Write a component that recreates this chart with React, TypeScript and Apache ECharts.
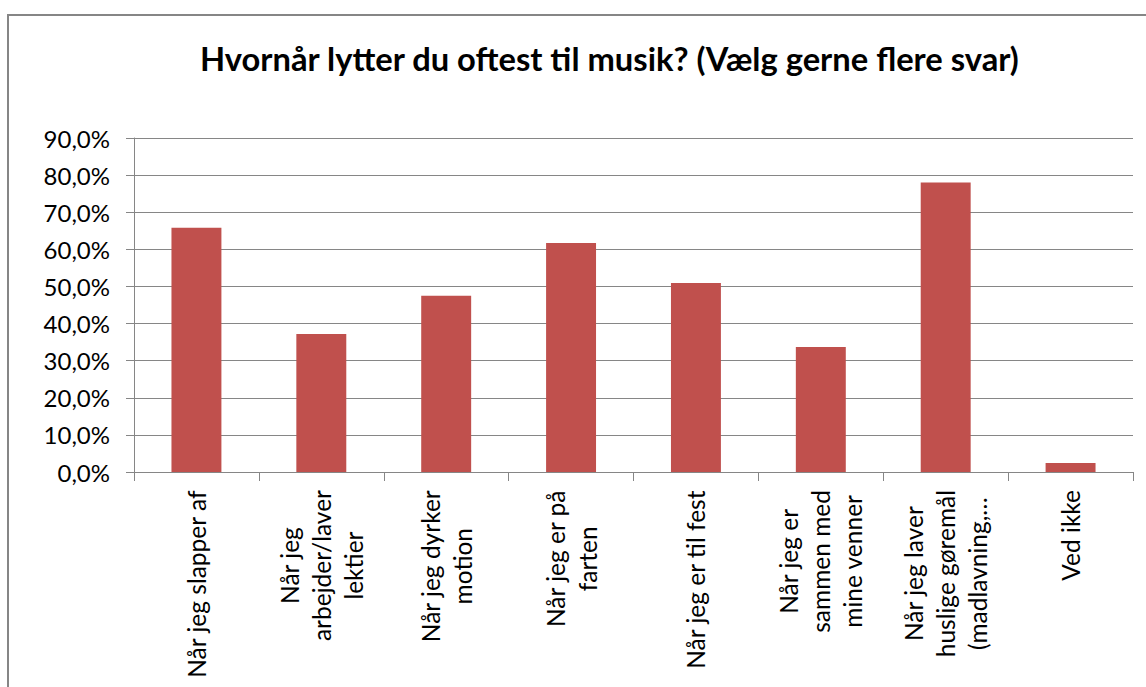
import React, { useEffect, useRef } from "react";
import * as echarts from "echarts";

const titleText = "Hvornår lytter du oftest til musik? (Vælg gerne flere svar)";

const categories: string[] = [
  "Når jeg slapper af",
  "Når jeg\narbejder/laver\nlektier",
  "Når jeg dyrker\nmotion",
  "Når jeg er på\nfarten",
  "Når jeg er til fest",
  "Når jeg er\nsammen med\nmine venner",
  "Når jeg laver\nhuslige gøremål\n(madlavning,…",
  "Ved ikke",
];

const values: number[] = [65.8, 37.2, 47.5, 61.7, 50.9, 33.7, 78.0, 2.4];

const yMin = 0;
const yMax = 90;
const yInterval = 10;

const FONT = "Lato, 'Noto Sans', sans-serif";
const GRAY = "#868686";

export default function App() {
  const ref = useRef<HTMLDivElement>(null);

  useEffect(() => {
    if (!ref.current) return;
    const chart = echarts.init(ref.current, null, { renderer: "svg" });
    chart.setOption({
      animation: false,
      backgroundColor: "#ffffff",
      textStyle: { fontFamily: FONT },
      title: {
        text: titleText,
        left: 200,
        top: 42,
        padding: 0,
        textStyle: {
          fontFamily: FONT,
          fontWeight: "bold",
          fontSize: 32.7,
          color: "#000000",
        },
      },
      graphic: [
        {
          type: "rect",
          shape: { x: 8, y: 15, width: 1300, height: 900 },
          style: { fill: "none", stroke: GRAY, lineWidth: 2 },
          silent: true,
        },
      ],
      grid: { left: 134, right: 13, top: 138, bottom: 215, containLabel: false },
      xAxis: {
        type: "category",
        data: categories,
        axisLine: { show: true, lineStyle: { color: GRAY, width: 1 } },
        axisTick: { show: true, length: 9, lineStyle: { color: GRAY } },
        axisLabel: {
          interval: 0,
          rotate: 90,
          margin: 18,
          color: "#000000",
          fontFamily: FONT,
          fontSize: 24,
          lineHeight: 32,
          formatter: (v: string) =>
            v
              .split("\n")
              .map((l) => `{c|${l}}`)
              .join("\n"),
          rich: {
            c: {
              align: "center",
              fontFamily: FONT,
              fontSize: 24.5,
              lineHeight: 32,
              color: "#000000",
            },
          },
        },
      },
      yAxis: {
        type: "value",
        min: yMin,
        max: yMax,
        interval: yInterval,
        axisLine: { show: true, lineStyle: { color: GRAY, width: 1 } },
        axisTick: { show: true, length: 8, lineStyle: { color: GRAY } },
        splitLine: { show: true, lineStyle: { color: GRAY, width: 1 } },
        axisLabel: {
          margin: 24,
          color: "#000000",
          fontFamily: FONT,
          fontSize: 24,
          formatter: (v: number) => v.toFixed(1).replace(".", ",") + "%",
        },
      },
      series: [
        {
          type: "bar",
          data: values,
          barWidth: "40%",
          itemStyle: { color: "#C0504D" },
        },
      ],
    });
    return () => chart.dispose();
  }, []);

  return (
    <div
      ref={ref}
      style={{ position: "fixed", left: 0, top: 0, width: 1146, height: 687 }}
    />
  );
}
